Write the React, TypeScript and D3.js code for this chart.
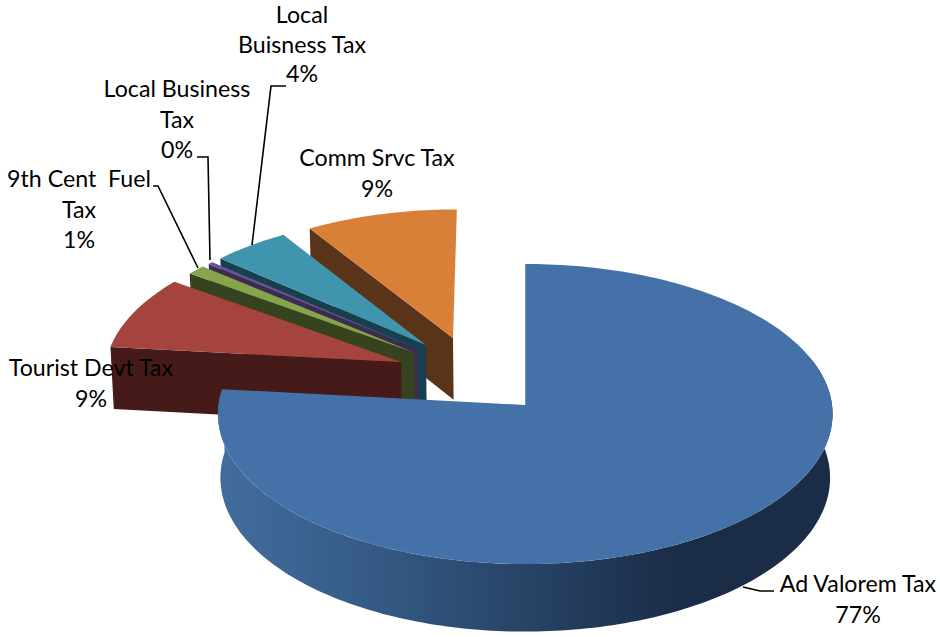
import { useEffect, useRef } from "react";
import * as d3 from "d3";

// slice shares, clockwise from 12 o'clock
const names = ["Ad Valorem Tax", "Tourist Devt Tax", "9th Cent Fuel", "Local Business Tax", "Local Buisness Tax", "Comm Srvc Tax"];
const shares = [76.7, 8.3, 1.1, 0.3, 4.6, 9.0];

const topColors = ["#4471a7", "#a5443f", "#86a44a", "#6d5293", "#3e95ad", "#d98038"];
const wallColors = ["#1b2d46", "#451a18", "#37431e", "#3b2c52", "#16404e", "#5a3418"];
// how far each slice is pulled out of the pie, in pie radii
const explodeU = [0, -0.412, -0.37, -0.358, -0.332, -0.242];
const explodeV = [0, -0.293, -0.358, -0.383, -0.411, -0.46];
const radii = [1, 0.978, 0.97, 0.96, 0.96, 0.96];

const labelLines = [
  ["Ad Valorem Tax", "77%"],
  ["Tourist Devt Tax", "9%"],
  ["9th Cent  Fuel", "Tax", "1%"],
  ["Local Business", "Tax", "0%"],
  ["Local", "Buisness Tax", "4%"],
  ["Comm Srvc Tax", "9%"],
];
const labelX = [858, 91, 79, 177, 302, 377];
const labelY = [592, 376, 187, 97, 23, 166];
const labelGap = [30.5, 30.5, 30.5, 30.5, 29.7, 30.5];
const leaders: [number, number][][] = [
  [[743, 587], [760, 591], [774, 591]],
  [],
  [[198, 268], [158, 186], [153, 186]],
  [[210, 260], [208, 157], [197, 157]],
  [[252, 245], [271, 86], [286, 86]],
  [],
];

const W = 940;
const H = 637;
const persp = 0.06;
const depth = 63.5;
const vanishX = 525;

const sx = d3.scaleLinear().domain([-1, 1]).range([218.5, 832]);
const sy = d3.scaleLinear().domain([-1, 1]).range([405 - 149.5, 405 + 149.5]);

function project(u: number, v: number, z = 0): [number, number] {
  const f = 1 / (1 - persp * v);
  const x = sx(u * f);
  const y = sy(v * f) + depth * f * z;
  return [vanishX + (x - vanishX) * (1 - 0.008 * z), y];
}

export default function App() {
  const svgRef = useRef<SVGSVGElement | null>(null);

  useEffect(() => {
    if (!svgRef.current) return;
    const svg = d3.select(svgRef.current);
    svg.selectAll("*").remove();
    svg.attr("viewBox", `0 0 ${W} ${H}`);

    const grad = svg.append("defs").append("linearGradient")
      .attr("id", "blue-wall").attr("gradientUnits", "userSpaceOnUse")
      .attr("x1", 219).attr("x2", 832).attr("y1", 0).attr("y2", 0);
    grad.append("stop").attr("offset", "0%").attr("stop-color", "#436d9f");
    grad.append("stop").attr("offset", "30%").attr("stop-color", "#32567f");
    grad.append("stop").attr("offset", "60%").attr("stop-color", "#223a5a");
    grad.append("stop").attr("offset", "75%").attr("stop-color", "#1b2d46");
    grad.append("stop").attr("offset", "100%").attr("stop-color", "#1b2d46");

    const pie = d3.pie<number>().sort(null).value((d) => d);
    const arcs = pie(shares);
    const line = d3.line<[number, number]>();

    const pt = (i: number, a: number, r: number, z = 0) =>
      project(explodeU[i] + r * Math.sin(a), explodeV[i] - r * Math.cos(a), z);

    const rim = (i: number, a0: number, a1: number, z = 0) => {
      const n = Math.max(2, Math.ceil(Math.abs(a1 - a0) / 0.02));
      return d3.range(n + 1).map((k) => pt(i, a0 + ((a1 - a0) * k) / n, radii[i], z));
    };

    // back slices first, the big one goes on top
    const order = [5, 4, 3, 2, 1, 0];
    order.forEach((i) => {
      const { startAngle: a0, endAngle: a1 } = arcs[i];
      const r = radii[i];
      const g = svg.append("g");

      if (i === 0) {
        // outer wall of the big slice
        const wall = [...rim(i, Math.PI * 0.4, a1, 0), ...rim(i, a1, Math.PI * 0.4, 1)];
        g.append("path").attr("d", line(wall) + "Z").attr("fill", "url(#blue-wall)");
      } else {
        // radial face on the start edge
        const face = [pt(i, a0, 0, 0), pt(i, a0, r, 0), pt(i, a0, r, 1), pt(i, a0, 0, 1)];
        g.append("path").attr("d", line(face) + "Z").attr("fill", wallColors[i]);
      }

      const top = [pt(i, a0, 0), ...rim(i, a0, a1)];
      g.append("path").attr("d", line(top) + "Z").attr("fill", topColors[i]);
    });

    // leader lines
    svg.append("g").selectAll("path")
      .data(leaders.filter((d) => d.length))
      .join("path")
      .attr("d", (d) => line(d))
      .attr("fill", "none")
      .attr("stroke", "#000")
      .attr("stroke-width", 1.6);

    // labels
    const labels = svg.append("g")
      .attr("font-family", "Lato, sans-serif")
      .attr("font-size", 23.2)
      .attr("fill", "#000")
      .attr("text-anchor", "middle");
    names.forEach((name, i) => {
      labels.append("text")
        .attr("data-name", name)
        .attr("y", labelY[i])
        .selectAll("tspan")
        .data(labelLines[i])
        .join("tspan")
        .attr("x", labelX[i])
        .attr("dy", (_, k) => (k === 0 ? 0 : labelGap[i]))
        .style("white-space", "pre")
        .text((d) => d);
    });
  }, []);

  return (
    <svg
      ref={svgRef}
      width={W}
      height={H}
      style={{ position: "absolute", left: 0, top: 0, background: "#fff" }}
    />
  );
}
